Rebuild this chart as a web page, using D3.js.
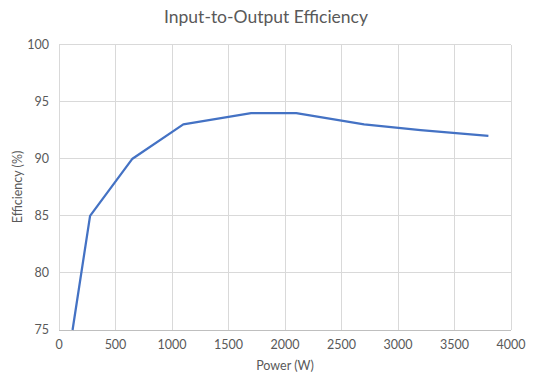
<!DOCTYPE html>
<html><head><meta charset="utf-8">
<script src="https://cdn.jsdelivr.net/npm/d3@7"></script>
<style>body{margin:0;background:#fff}svg{display:block}</style>
</head><body>
<svg id="c" width="533" height="387"></svg>
<script>
const powerW = [120, 275, 650, 1100, 1700, 2100, 2700, 3200, 3800];
const efficiency = [75, 85, 90, 93, 94, 94, 93, 92.5, 92];
const xTicks = [0, 500, 1000, 1500, 2000, 2500, 3000, 3500, 4000];
const yTicks = [75, 80, 85, 90, 95, 100];
const title = "Input-to-Output Efficiency";
const xLabel = "Power (W)";
const yLabel = "Efficiency (%)";

const svg = d3.select("#c");
const font = "Lato, 'Open Sans', sans-serif";
const x = d3.scaleLinear().domain([0, 4000]).range([59, 511]);
const y = d3.scaleLinear().domain([75, 100]).range([330, 44.5]);

// grid
svg.append("g").selectAll("line").data(xTicks.slice(1)).join("line")
  .attr("x1", d => x(d)).attr("x2", d => x(d)).attr("y1", y(100)).attr("y2", y(75))
  .attr("stroke", "#d9d9d9").attr("stroke-width", 1).attr("shape-rendering", "crispEdges");
svg.append("g").selectAll("line").data(yTicks.slice(1)).join("line")
  .attr("x1", x(0)).attr("x2", x(4000)).attr("y1", d => y(d)).attr("y2", d => y(d))
  .attr("stroke", "#d9d9d9").attr("stroke-width", 1).attr("shape-rendering", "crispEdges");
// axes lines
svg.append("line").attr("x1", x(0)).attr("x2", x(4000)).attr("y1", y(75)).attr("y2", y(75))
  .attr("stroke", "#bfbfbf").attr("shape-rendering", "crispEdges");
svg.append("line").attr("x1", x(0)).attr("x2", x(0)).attr("y1", y(100)).attr("y2", y(75))
  .attr("stroke", "#d9d9d9").attr("shape-rendering", "crispEdges");

// tick labels
svg.append("g").selectAll("text").data(xTicks).join("text")
  .attr("x", d => x(d)).attr("y", 349).attr("text-anchor", "middle")
  .attr("font-family", font).attr("font-size", 12.5).attr("fill", "#595959").text(d => d);
svg.append("g").selectAll("text").data(yTicks).join("text")
  .attr("x", 49).attr("y", d => y(d) + 4).attr("text-anchor", "end")
  .attr("font-family", font).attr("font-size", 12.5).attr("fill", "#595959").text(d => d);

// titles
svg.append("text").attr("x", 266).attr("y", 23).attr("text-anchor", "middle")
  .attr("font-family", font).attr("font-size", 17.5).attr("fill", "#595959").text(title);
svg.append("text").attr("x", 285).attr("y", 370).attr("text-anchor", "middle")
  .attr("font-family", font).attr("font-size", 12.5).attr("fill", "#595959").text(xLabel);
svg.append("text").attr("transform", "translate(22,187) rotate(-90)").attr("text-anchor", "middle")
  .attr("font-family", font).attr("font-size", 12.5).attr("fill", "#595959").text(yLabel);

// line
const pts = powerW.map((p, i) => [p, efficiency[i]]);
svg.append("path").datum(pts)
  .attr("d", d3.line().x(d => x(d[0])).y(d => y(d[1])))
  .attr("fill", "none").attr("stroke", "#4472C4").attr("stroke-width", 2.25)
  .attr("stroke-linejoin", "round");
</script>
</body></html>
